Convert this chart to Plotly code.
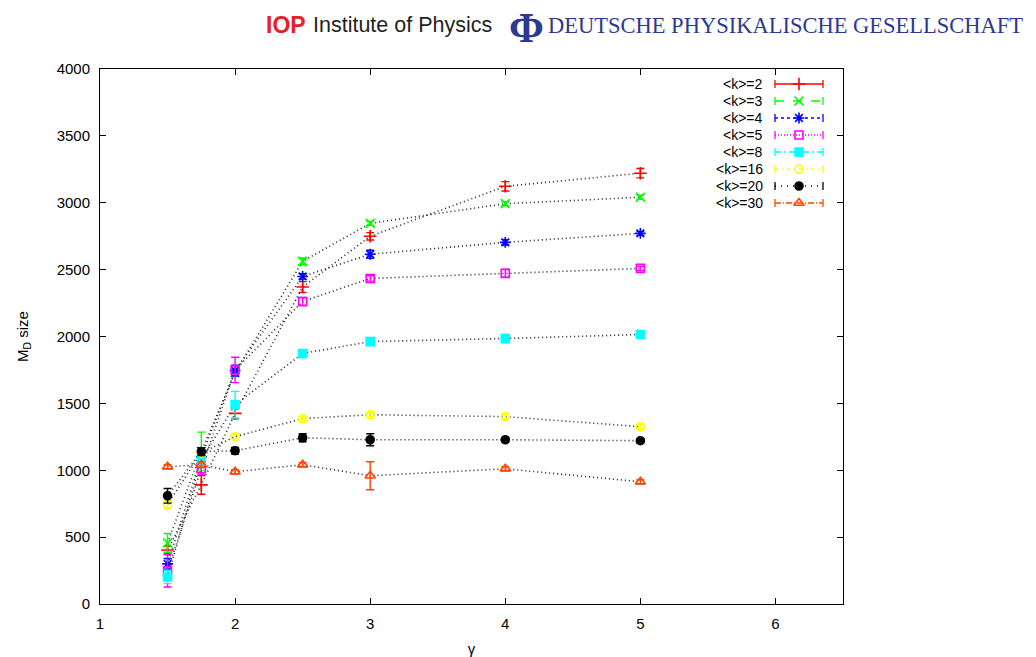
import plotly.graph_objects as go

# gamma exponent values at which the measurements were taken
gamma = [1.5, 1.75, 2, 2.5, 3, 4, 5]

# mean M_D size and its error for every average degree <k>
k2 = [404, 891, 1425, 2370, 2749, 3123, 3221]
k2_err = [30, 70, 40, 40, 28, 35, 35]
k3 = [457, 1140, 1730, 2562, 2846, 2993, 3041]
k3_err = [70, 145, 30, 25, 15, 15, 15]
k4 = [300, 1100, 1745, 2449, 2615, 2704, 2771]
k4_err = [40, 30, 40, 20, 30, 20, 15]
k5 = [247, 1011, 1750, 2262, 2434, 2472, 2509]
k5_err = [120, 40, 95, 30, 20, 30, 15]
k8 = [202, 1079, 1490, 1873, 1962, 1985, 2015]
k8_err = [50, 40, 100, 15, 15, 30, 10]
k16 = [745, 1130, 1251, 1386, 1415, 1401, 1326]
k16_err = [35, 20, 20, 15, 15, 15, 15]
k20 = [809, 1139, 1146, 1243, 1228, 1228, 1221]
k20_err = [55, 30, 25, 30, 45, 15, 15]
k30 = [1026, 1041, 989, 1041, 959, 1011, 914]
k30_err = [15, 20, 15, 15, 105, 15, 15]

labels = ["<k>=2", "<k>=3", "<k>=4", "<k>=5", "<k>=8", "<k>=16", "<k>=20", "<k>=30"]
values = [k2, k3, k4, k5, k8, k16, k20, k30]
errors = [k2_err, k3_err, k4_err, k5_err, k8_err, k16_err, k20_err, k30_err]

colors = ["#FF0000", "#00FF00", "#0000FF", "#FF00FF", "#00FFFF", "#FFFF00", "#000000", "#FF4500"]
symbols = ["cross-thin", "x-thin", "asterisk", "square-open", "square", "circle-open", "circle", "triangle-up-open"]
msizes = [9, 9, 9, 8, 8, 8, 8, 9]
dashes = ["solid", "dash", "3px,3px", "1px,2px", "6px,3px,2px,3px", "3px,4px,1px,4px", "1px,5px", "6px,2px,1px,2px"]

# plot-area corners in page pixels
X0, X1 = 100, 843
Y0, Y1 = 604, 69
W, H = 1036, 657


def px(x):
    return (x - X0) / (X1 - X0)


def py(y):
    return (Y0 - y) / (Y0 - Y1)


fig = go.Figure()

# dotted connectors
for v in values:
    fig.add_trace(go.Scatter(
        x=gamma, y=v, mode="lines",
        line=dict(color="#222222", width=1.6, dash="1px,3px"),
        showlegend=False, hoverinfo="skip",
    ))

# points with error bars
for lab, v, e, c, s, ms in zip(labels, values, errors, colors, symbols, msizes):
    fig.add_trace(go.Scatter(
        x=gamma, y=v, mode="markers", name=lab,
        marker=dict(symbol=s, size=ms, color=c, line=dict(color=c, width=1.6)),
        error_y=dict(type="data", array=e, visible=True, color=c, thickness=1.4, width=4),
        showlegend=False,
    ))

# key drawn on an overlay axis pair laid out in page pixels
row0, pitch = 84, 17.0
text_right, samp_l, samp_r = 765, 775, 823
annotations = []
for i, (lab, c, s, ms, d) in enumerate(zip(labels, colors, symbols, msizes, dashes)):
    yy = row0 + i * pitch
    fig.add_trace(go.Scatter(
        x=[samp_l, samp_r], y=[yy, yy], mode="lines", xaxis="x2", yaxis="y2",
        line=dict(color=c, width=1.3, dash=d),
        error_y=dict(type="constant", value=4, visible=True, color=c, thickness=1.3, width=0),
        showlegend=False, hoverinfo="skip",
    ))
    fig.add_trace(go.Scatter(
        x=[(samp_l + samp_r) / 2], y=[yy], mode="markers", xaxis="x2", yaxis="y2",
        marker=dict(symbol=s, size=ms, color=c, line=dict(color=c, width=1.6)),
        showlegend=False, hoverinfo="skip",
    ))
    annotations.append(dict(
        x=text_right, y=yy, xref="x2", yref="y2", text=lab.replace("<", "&lt;").replace(">", "&gt;"),
        showarrow=False, xanchor="right", yanchor="middle",
        font=dict(family="Liberation Sans, Arial, sans-serif", size=14, color="black"),
    ))

# publisher banner above the frame
banner = [
    (264, 25, "<b>IOP</b>", "Liberation Sans, Arial, sans-serif", 23, "#E8202A"),
    (311, 25, "Institute of Physics", "Liberation Sans, Arial, sans-serif", 21.5, "#231F20"),
    (507, 28, "<b>Φ</b>", "Liberation Serif, DejaVu Serif, serif", 42, "#2B3990"),
    (546, 26, "DEUTSCHE PHYSIKALISCHE GESELLSCHAFT", "Liberation Serif, DejaVu Serif, serif", 22.5, "#2B3990"),
]
for bx, by, txt, fam, sz, col in banner:
    annotations.append(dict(
        x=px(bx), y=py(by), xref="paper", yref="paper", text=txt, showarrow=False,
        xanchor="left", yanchor="middle",
        font=dict(family=fam, size=sz, color=col),
    ))

tick_font = dict(family="Liberation Sans, Arial, sans-serif", size=15, color="black")
fig.update_layout(
    width=W, height=H,
    margin=dict(l=X0, r=W - X1, t=Y1, b=H - Y0),
    paper_bgcolor="white", plot_bgcolor="white",
    showlegend=False,
    xaxis=dict(range=[1, 6.5], tickvals=[1, 2, 3, 4, 5, 6], ticks="inside", ticklen=6,
               tickcolor="black", showline=True, linecolor="black", linewidth=1, mirror="ticks",
               showgrid=False, zeroline=False, tickfont=tick_font, ticklabelstandoff=6,
               automargin=False,
               title=dict(text="γ", font=tick_font, standoff=20)),
    yaxis=dict(range=[0, 4000], dtick=500, ticks="inside", ticklen=6,
               tickcolor="black", showline=True, linecolor="black", linewidth=1, mirror="ticks",
               showgrid=False, zeroline=False, tickfont=tick_font, ticklabelstandoff=6,
               automargin=False,
               title=dict(text="M<sub>D</sub> size", font=tick_font, standoff=24)),
    xaxis2=dict(range=[X0, X1], overlaying="x", visible=False, fixedrange=True),
    yaxis2=dict(range=[Y0, Y1], overlaying="y", visible=False, fixedrange=True),
    annotations=annotations,
)

fig.write_html("out.html")
